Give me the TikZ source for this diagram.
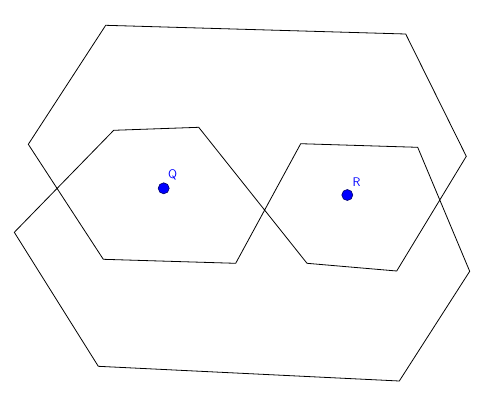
\documentclass[tikz,border=0pt]{standalone}
\usetikzlibrary{positioning}
\tikzset{
  edge/.style={draw=black, line width=0.8pt, line join=miter},
  point/.style={circle, fill=blue, draw=black!60!blue, line width=0.6pt, inner sep=0pt, minimum size=11pt},
  ptlabel/.style={text=blue, font=\sffamily\fontsize{12.5}{14}\selectfont, inner sep=0pt}
}

\begin{document}
\begin{tikzpicture}[x=1pt, y=-1pt]
  \useasboundingbox (0,0) rectangle (490,407);

  % outer vertices
  \coordinate (A) at (105.7,25.3);
  \coordinate (B) at (405.7,34);
  \coordinate (C) at (466.3,156.3);
  \coordinate (D) at (28.3,144.3);
  \coordinate (M) at (14.3,232.3);
  \coordinate (N) at (98.3,366.3);
  \coordinate (O) at (399.3,381);
  \coordinate (P) at (469.7,271.3);
  % inner vertices
  \coordinate (E) at (113.7,130.3);
  \coordinate (F) at (198.7,127.3);
  \coordinate (G) at (103.3,259.3);
  \coordinate (H) at (235.7,263.3);
  \coordinate (I) at (300.7,143.7);
  \coordinate (J) at (417.7,147.3);
  \coordinate (K) at (307,263.3);
  \coordinate (L) at (396.7,271);

  \draw [edge] (A) -- (B) -- (C) -- (L) -- (K) -- (F) -- (E) -- (M) -- (N) -- (O)
    -- (P) -- (J) -- (I) -- (H) -- (G) -- (D) -- cycle;

  \node (q) [point] at (163.7,188.3) {};
  \node (r) [point] at (347.3,195) {};
  \node (qlabel) [ptlabel, above right=4pt and 0pt of q] {Q};
  \node (rlabel) [ptlabel, above right=4pt and 1pt of r] {R};

\end{tikzpicture}
\end{document}
